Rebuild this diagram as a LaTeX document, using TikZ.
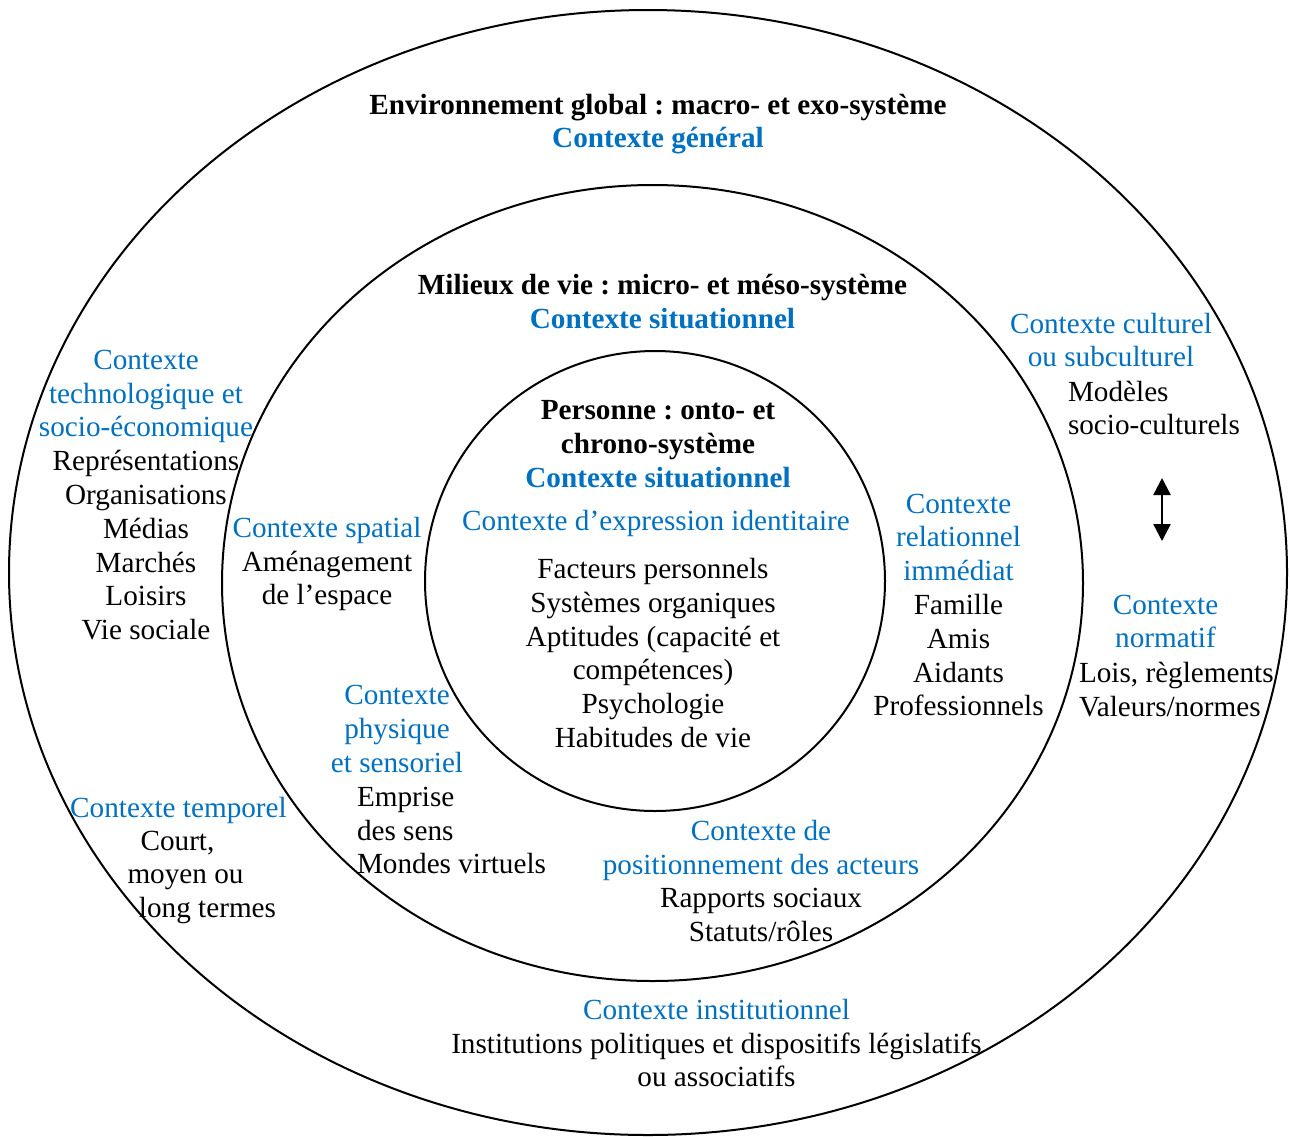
\documentclass[tikz,border=0pt]{standalone}
\usepackage{fontspec}
\setmainfont{Liberation Serif}
\usetikzlibrary{arrows.meta,shapes.geometric}
\definecolor{cblue}{RGB}{0,112,192}
\frenchspacing
\newcommand\fsz{\fontsize{14.6}{16.9}\selectfont}
\tikzset{
  txt/.style={inner sep=0pt, outer sep=0pt, font=\fsz, align=center},
  btxt/.style={txt, font=\fsz\bfseries},
  ctx/.style={text=cblue},
  ring/.style={draw, line width=1pt, inner sep=0pt, outer sep=0pt},
  tipA/.tip={Triangle[width=8.5pt,length=8.5pt]}
}
\begin{document}
\begin{tikzpicture}[x=0.5pt,y=-0.5pt]
\useasboundingbox (0,0) rectangle (1290,1136);
\fill[white] (0,0) rectangle (1290,1136);

% rings
\node[ring, ellipse, minimum width=639pt, minimum height=562.5pt] (outer) at (648,572.5) {};
\node[ring, ellipse, minimum width=430.5pt, minimum height=398pt] (middle) at (652.5,583) {};
\node[ring, circle, minimum size=230pt] (inner) at (655,581) {};

% outer ring titles
\node[btxt] (env) at (658,124) {Environnement global : macro- et exo-système\\\textcolor{cblue}{Contexte général}};
\node[btxt] (mil) at (662.5,301.5) {Milieux de vie : micro- et méso-système\\\textcolor{cblue}{Contexte situationnel}};
\node[btxt] (pers) at (658,444) {Personne : onto- et\\chrono-système\\\textcolor{cblue}{Contexte situationnel}};

% inner circle
\node[txt, ctx, anchor=base] (ident) at (656,530) {Contexte d’expression identitaire};
\node[txt] (fact) at (653,653) {Facteurs personnels\\Systèmes organiques\\Aptitudes (capacité et\\compétences)\\Psychologie\\Habitudes de vie};

% outer ring, left
\node[txt] (techno) at (146,495) {\textcolor{cblue}{Contexte}\\\textcolor{cblue}{technologique et}\\\textcolor{cblue}{socio-économique}\\Représentations\\Organisations\\Médias\\Marchés\\Loisirs\\Vie sociale};

% temporel
\node[txt, ctx, anchor=base] (temp) at (178.5,817) {Contexte temporel};
\node[txt, anchor=base] (temp1) at (177.5,850) {Court,};
\node[txt, anchor=base] (temp2) at (185.5,883) {moyen ou};
\node[txt, anchor=base] (temp3) at (207.5,917) {long termes};

% middle ring
\node[txt] (spat) at (327,564) {\textcolor{cblue}{Contexte spatial}\\Aménagement\\de l’espace};
\node[txt, ctx] (phys) at (397,729) {Contexte\\physique\\et sensoriel};
\node[txt, align=left, anchor=west] (physb) at (357,830.5) {Emprise\\des sens\\Mondes virtuels};
\node[txt] (posit) at (761,881) {\textcolor{cblue}{Contexte de}\\\textcolor{cblue}{positionnement des acteurs}\\Rapports sociaux\\Statuts/rôles};
\node[txt] (relat) at (958.5,605) {\textcolor{cblue}{Contexte}\\\textcolor{cblue}{relationnel}\\\textcolor{cblue}{immédiat}\\Famille\\Amis\\Aidants\\Professionnels};

% outer ring, right
\node[txt, ctx] (cult) at (1111,340) {Contexte culturel\\ou subculturel};
\node[txt, align=left, anchor=west] (cultb) at (1068,408) {Modèles\\socio-culturels};
\coordinate (aT) at (1162,478);
\coordinate (aB) at (1162,541);
\draw[line width=1.2pt, tipA-tipA] (aT) -- (aB);
\node[txt, ctx] (norm) at (1165.5,621.5) {Contexte\\normatif};
\node[txt, align=left, anchor=west] (normb) at (1079,689.5) {Lois, règlements\\Valeurs/normes};

% bottom
\node[txt] (inst) at (716.5,1043) {\textcolor{cblue}{Contexte institutionnel}\\Institutions politiques et dispositifs législatifs\\ou associatifs};
\end{tikzpicture}
\end{document}
